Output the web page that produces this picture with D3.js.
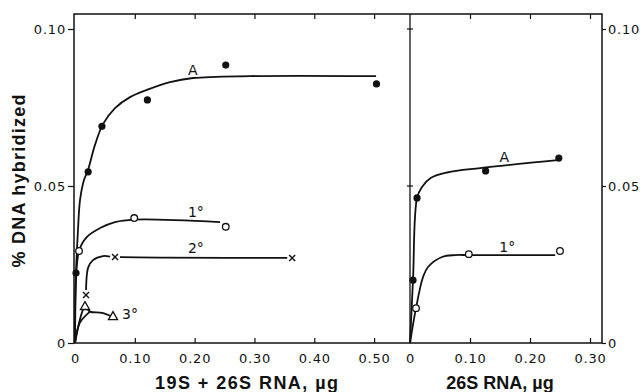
<!DOCTYPE html>
<html>
<head>
<meta charset="utf-8">
<script src="https://cdn.jsdelivr.net/npm/d3@7"></script>
<style>
  body { margin: 0; background: #fff; }
  .tick text { font-family: "DejaVu Sans", sans-serif; font-size: 13px; letter-spacing: 0.8px; fill: #111; }
  .lab { font-family: "DejaVu Sans", sans-serif; font-size: 14px; fill: #111; }
  .title { font-family: "Liberation Sans", Arial, sans-serif; font-weight: bold; font-size: 18px; fill: #111; }
</style>
</head>
<body>
<svg id="chart" width="640" height="392"></svg>
<script>
// ---- left panel: 19S + 26S RNA (µg) ----
const leftA_pts   = [[0.0017, 0.0223], [0.022, 0.0545], [0.045, 0.069], [0.121, 0.0774], [0.252, 0.0885], [0.504, 0.0825]];
const leftA_curve = [[0, 0], [0.0017, 0.0223], [0.005, 0.036], [0.0084, 0.0455], [0.015, 0.0519], [0.0217, 0.0551],
                     [0.0334, 0.0631], [0.0468, 0.0697], [0.0669, 0.0748], [0.092, 0.0783], [0.12, 0.0806],
                     [0.1589, 0.0831], [0.1973, 0.0844], [0.2926, 0.085], [0.5033, 0.085]];
const left1_pts   = [[0.0067, 0.0293], [0.099, 0.0398], [0.252, 0.037]];
const left1_curve = [[0, 0], [0.0067, 0.0293], [0.02, 0.0338], [0.0418, 0.0366], [0.0669, 0.0385], [0.0987, 0.0393], [0.2425, 0.0385]];
const left2_pts   = [[0.0184, 0.0153], [0.0669, 0.0274], [0.363, 0.0271]];
const left2_curve = [[0.0184, 0.0153], [0.022, 0.024], [0.03, 0.0264], [0.0468, 0.0277], [0.0669, 0.0274], [0.363, 0.0271]];
const left3_pts   = [[0.0167, 0.0115], [0.0635, 0.0083]];
const left3_curve = [[0, 0], [0.0167, 0.0115], [0.025, 0.0100], [0.045, 0.0096], [0.0635, 0.0083]];
const left3_lower = [[0, 0], [0.008, 0.0064], [0.025, 0.0100]];

// ---- right panel: 26S RNA (µg) ----
const rightA_pts   = [[0.005, 0.020], [0.0117, 0.0462], [0.126, 0.0548], [0.248, 0.0589]];
const rightA_curve = [[0, 0], [0.005, 0.020], [0.0117, 0.0462], [0.02, 0.0497], [0.035, 0.0526], [0.062, 0.0543],
                      [0.117, 0.0557], [0.25, 0.0583]];
const right1_pts   = [[0.01, 0.0111], [0.098, 0.0283], [0.25, 0.0293]];
const right1_curve = [[0, 0], [0.01, 0.0111], [0.0217, 0.021], [0.03, 0.0242], [0.0533, 0.0274], [0.075, 0.028], [0.098, 0.028], [0.242, 0.028]];

const leftTicks  = [0, 0.1, 0.2, 0.3, 0.4, 0.5];
const rightTicks = [0, 0.1, 0.2, 0.3];
const yTicks     = [0, 0.05, 0.1];
const leftLabels  = [["A", 0.197, 0.0869], ["1°", 0.202, 0.0417], ["2°", 0.202, 0.0303], ["3°", 0.092, 0.0092]];
const rightLabels = [["A", 0.157, 0.0592], ["1°", 0.162, 0.0306]];

const svg = d3.select("#chart");
const frameTop = 14, frameBottom = 343, frameLeft = 74, frameMid = 410, frameRight = 602;

const xL = d3.scaleLinear().domain([0, 0.56]).range([75, 410]);
const xR = d3.scaleLinear().domain([0, 0.32]).range([410, 602]);
const y = d3.scaleLinear().domain([0, 0.1]).range([343, 29]);

const fmt = d => d === 0 ? "0" : d3.format(".2f")(d);

// frame
svg.append("rect")
    .attr("x", frameLeft).attr("y", frameTop)
    .attr("width", frameRight - frameLeft).attr("height", frameBottom - frameTop)
    .attr("fill", "none").attr("stroke", "#111").attr("stroke-width", 1.5);
svg.append("line")
    .attr("x1", frameMid).attr("x2", frameMid).attr("y1", frameTop).attr("y2", frameBottom)
    .attr("stroke", "#111").attr("stroke-width", 1.3);

function styleAxis(g) {
    g.select(".domain").remove();
    g.selectAll(".tick line").attr("stroke", "#111").attr("stroke-width", 1.2);
}

// bottom axes (ticks inward)
svg.append("g").attr("transform", `translate(0,${frameBottom})`)
    .call(d3.axisBottom(xL).tickValues(leftTicks).tickFormat(fmt).tickSizeInner(-5).tickSizeOuter(0).tickPadding(11))
    .call(styleAxis);
svg.append("g").attr("transform", `translate(0,${frameBottom})`)
    .call(d3.axisBottom(xR).tickValues(rightTicks).tickFormat(fmt).tickSizeInner(-5).tickSizeOuter(0).tickPadding(11))
    .call(styleAxis);

// top ticks
svg.append("g").attr("transform", `translate(0,${frameTop})`)
    .call(d3.axisTop(xL).tickValues(leftTicks.slice(1)).tickFormat("").tickSizeInner(-5).tickSizeOuter(0))
    .call(styleAxis);
svg.append("g").attr("transform", `translate(0,${frameTop})`)
    .call(d3.axisTop(xR).tickValues(rightTicks.slice(1)).tickFormat("").tickSizeInner(-5).tickSizeOuter(0))
    .call(styleAxis);

// left and right y axes (ticks outward)
svg.append("g").attr("transform", `translate(${frameLeft},0)`)
    .call(d3.axisLeft(y).tickValues(yTicks).tickFormat(fmt).tickSizeInner(6).tickSizeOuter(0).tickPadding(2))
    .call(styleAxis);
svg.append("g").attr("transform", `translate(${frameRight},0)`)
    .call(d3.axisRight(y).tickValues(yTicks).tickFormat(fmt).tickSizeInner(4).tickSizeOuter(0).tickPadding(2))
    .call(styleAxis);

// small cross ticks on divider
svg.append("g").selectAll("line")
    .data(yTicks.slice(1))
    .join("line")
    .attr("x1", frameMid - 3).attr("x2", frameMid + 3)
    .attr("y1", d => y(d)).attr("y2", d => y(d))
    .attr("stroke", "#111").attr("stroke-width", 1.2);

// curves
function drawCurve(data, xs) {
    const line = d3.line().x(d => xs(d[0])).y(d => y(d[1])).curve(d3.curveCatmullRom.alpha(0.5));
    svg.append("path")
        .attr("d", line(data))
        .attr("fill", "none")
        .attr("stroke", "#111")
        .attr("stroke-width", 1.8);
}
drawCurve(leftA_curve, xL);
drawCurve(left1_curve, xL);
drawCurve(left2_curve, xL);
drawCurve(left3_curve, xL);
drawCurve(left3_lower, xL);
drawCurve(rightA_curve, xR);
drawCurve(right1_curve, xR);

// markers
function filled(data, xs) {
    svg.append("g").selectAll("circle").data(data).join("circle")
        .attr("cx", d => xs(d[0])).attr("cy", d => y(d[1])).attr("r", 3.6)
        .attr("fill", "#111");
}
function open(data, xs) {
    svg.append("g").selectAll("circle").data(data).join("circle")
        .attr("cx", d => xs(d[0])).attr("cy", d => y(d[1])).attr("r", 3.3)
        .attr("fill", "#fff").attr("stroke", "#111").attr("stroke-width", 1.3);
}
function crosses(data, xs) {
    const g = svg.append("g").selectAll("g").data(data).join("g")
        .attr("transform", d => `translate(${xs(d[0])},${y(d[1])})`);
    g.append("circle").attr("r", 5).attr("fill", "#fff");
    g.append("path").attr("d", "M-3,-3L3,3M-3,3L3,-3")
        .attr("stroke", "#111").attr("stroke-width", 1.4);
}
function triangles(data, xs) {
    svg.append("g").selectAll("path").data(data).join("path")
        .attr("transform", d => `translate(${xs(d[0])},${y(d[1])})`)
        .attr("d", d3.symbol(d3.symbolTriangle, 36))
        .attr("fill", "#fff").attr("stroke", "#111").attr("stroke-width", 1.3);
}
filled(leftA_pts, xL);
open(left1_pts, xL);
crosses(left2_pts, xL);
triangles(left3_pts, xL);
filled(rightA_pts, xR);
open(right1_pts, xR);

// curve labels
function labels(data, xs) {
    svg.append("g").selectAll("text").data(data).join("text")
        .attr("class", "lab")
        .attr("x", d => xs(d[1])).attr("y", d => y(d[2]))
        .attr("dy", "0.36em")
        .attr("text-anchor", "middle")
        .text(d => d[0]);
}
labels(leftLabels, xL);
labels(rightLabels, xR);

// axis titles
svg.append("text").attr("class", "title")
    .attr("x", 246.5).attr("y", 389)
    .attr("text-anchor", "middle")
    .attr("textLength", 183).attr("lengthAdjust", "spacing")
    .text("19S + 26S RNA, µg");
svg.append("text").attr("class", "title")
    .attr("x", 500).attr("y", 389)
    .attr("text-anchor", "middle")
    .text("26S RNA, µg");
svg.append("text").attr("class", "title")
    .attr("transform", "translate(25,181) rotate(-90)")
    .attr("text-anchor", "middle")
    .attr("textLength", 173).attr("lengthAdjust", "spacing")
    .text("% DNA hybridized");
</script>
</body>
</html>
